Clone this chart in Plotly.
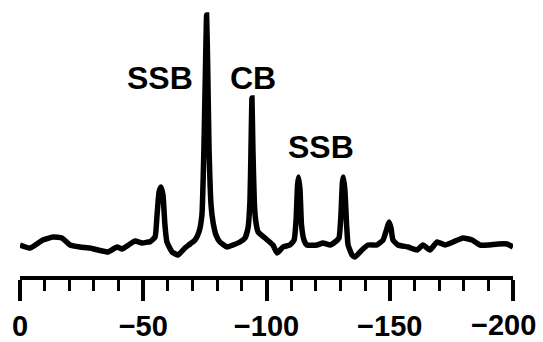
import plotly.graph_objects as go

# chemical shift (ppm) and intensity (arb. units)
shift = [0, -4.1, -9.3, -13.4, -17.0, -20.3, -24.3, -28.4, -31.6, -35.7, -39.4, -41.4,
         -44.6, -46.7, -49.5, -51.9, -52.7, -54.8, -55.6, -56.4, -57.2, -58.0, -58.8,
         -59.6, -61.7, -64.1, -66.9, -69.0, -71.0, -72.6, -73.8, -74.6, -75.3, -75.7,
         -76.1, -76.7, -77.5, -78.3, -79.5, -81.1, -84.0, -86.4, -89.2, -91.3, -92.5,
         -93.3, -93.7, -94.1, -94.5, -95.1, -95.7, -96.6, -99.4, -102.6, -104.3, -106.7,
         -109.5, -111.2, -112.0, -112.6, -113.0, -113.6, -114.2, -115.2, -116.4, -120.5,
         -122.9, -125.8, -127.8, -129.4, -130.2, -130.8, -131.2, -131.8, -132.5, -133.1,
         -134.7, -135.9, -138.7, -141.2, -144.8, -147.3, -148.9, -149.7, -150.5, -151.3,
         -153.3, -157.4, -161.1, -163.5, -166.3, -169.2, -172.4, -175.7, -179.7, -183.4,
         -186.6, -189.9, -193.9, -197.6, -200]
intensity = [15, 12, 20, 23, 22, 15, 13, 12, 10, 8, 13, 11,
             16, 19, 17, 18, 18, 23, 45, 68, 73, 65, 35,
             18, 8, 5, 12, 16, 20, 28, 45, 110, 200, 245,
             200, 110, 55, 38, 25, 18, 13, 15, 18, 22, 32,
             60, 110, 162, 110, 55, 38, 28, 22, 15, 7, 13,
             15, 20, 40, 75, 83, 70, 35, 20, 15, 15,
             17, 15, 18, 22, 45, 78, 83, 70, 35, 15,
             5, 3, 10, 15, 15, 20, 32, 38, 32, 20,
             15, 13, 10, 15, 10, 18, 15, 18, 22, 20,
             15, 15, 16, 16, 13]

tick_vals = [0, -50, -100, -150, -200]
tick_text = ["0", "\u221250", "\u2212100", "\u2212150", "\u2212200"]

peak_labels = ["SSB", "CB", "SSB"]
label_x = [-56.8, -94.5, -122.1]
label_y = [182, 182, 113]

FONT = "Liberation Sans, Arial, Helvetica, sans-serif"

fig = go.Figure()
fig.add_trace(go.Scatter(
    x=shift, y=intensity, mode="lines",
    line=dict(color="black", width=5.5, shape="spline", smoothing=0.4),
    hoverinfo="skip", showlegend=False,
))

for t, xx, yy in zip(peak_labels, label_x, label_y):
    fig.add_annotation(x=xx, y=yy, text="<b>%s</b>" % t, showarrow=False,
                       font=dict(family=FONT, size=32, color="black"),
                       xanchor="center", yanchor="middle")

# the last tick label sits against the right edge, so it is drawn as an
# annotation nudged inward; the others are regular tick labels
axis_text = ["<b>%s</b>" % s for s in tick_text[:-1]] + [""]
fig.add_annotation(x=tick_vals[-1], xref="x", y=0, yref="paper",
                   text="<b>%s</b>" % tick_text[-1], showarrow=False,
                   font=dict(family=FONT, size=29, color="black"),
                   xanchor="center", yanchor="middle", xshift=-10, yshift=-49)

fig.update_layout(
    width=543, height=342,
    margin=dict(l=20, r=30, t=0, b=66),
    paper_bgcolor="white", plot_bgcolor="white",
    font=dict(family=FONT, color="black"),
    xaxis=dict(
        range=[0, -200], showgrid=False, zeroline=False, automargin=False,
        showline=True, linecolor="black", linewidth=4,
        ticks="outside", ticklen=21, tickwidth=3.5, tickcolor="black",
        tickvals=tick_vals, ticktext=axis_text,
        tickfont=dict(family=FONT, size=29, color="black"),
        ticklabelstandoff=0,
        minor=dict(ticks="outside", ticklen=11, tickwidth=3, tickcolor="black", dtick=10, tick0=0, showgrid=False),
        fixedrange=True,
    ),
    yaxis=dict(range=[-16, 260], visible=False, fixedrange=True, automargin=False),
)

fig.write_html("out.html")
